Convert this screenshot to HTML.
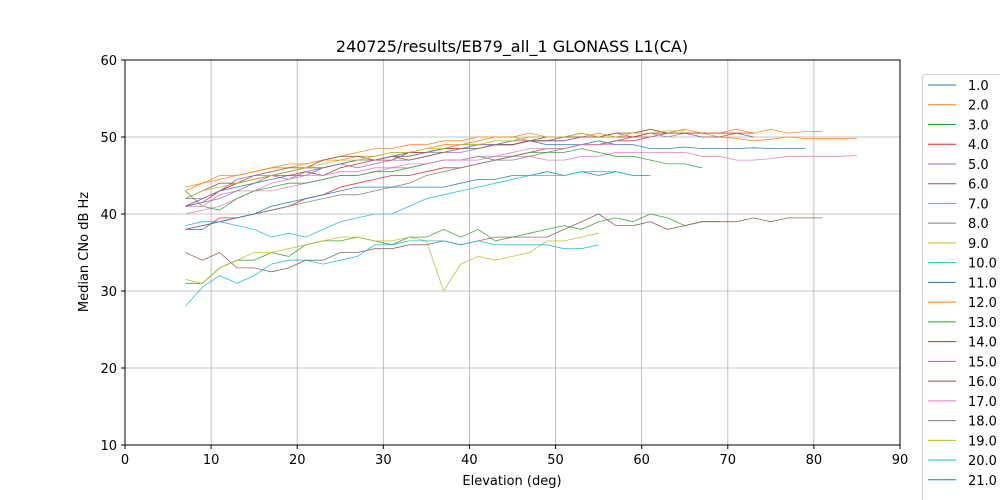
<!DOCTYPE html>
<html><head><meta charset="utf-8"><style>
body{margin:0;background:#fff;}
svg{display:block;font-family:"DejaVu Sans","Liberation Sans",sans-serif;}
</style></head><body>
<svg id="chart" width="1000" height="500">
<text x="512" y="52" text-anchor="middle" font-size="16">240725/results/EB79_all_1 GLONASS L1(CA)</text>
<g id="grid"></g>
<g id="lines"></g>
<rect x="125" y="60" width="775" height="385" fill="none" stroke="#000" stroke-width="1"/>
<g id="ticks"></g>
<text x="512" y="485" text-anchor="middle" font-size="13">Elevation (deg)</text>
<text transform="translate(88,252) rotate(-90)" text-anchor="middle" font-size="13">Median CNo dB Hz</text>
<g id="legend"></g>
</svg>
<script>
const xTicks=[0,10,20,30,40,50,60,70,80,90];
const yTicks=[10,20,30,40,50,60];
const labels=["1.0","2.0","3.0","4.0","5.0","6.0","7.0","8.0","9.0","10.0","11.0","12.0","13.0","14.0","15.0","16.0","17.0","18.0","19.0","20.0","21.0"];
const colors=["#1f77b4","#ff7f0e","#2ca02c","#d62728","#9467bd","#8c564b","#e377c2","#7f7f7f","#bcbd22","#17becf"];
const starts=[7,7,7,7,7,7,7,7,7,7,7,7,7,7,7,7,7,7,7,7];
const s1=[41,42,43,43.5,44,44.5,45,45,46,46.5,47,47,47.5,48,48,48.5,48.5,49,49,49,49.5,49,49,49,49.5,49,49,48.5,48.5,48.7,48.5,48.5,48.5,48.6,48.5,48.5,48.5];
const s2=[43.5,44,45,45,45.5,46,46,46.5,47,47,47.5,47.5,48,48,48.5,49,49,49.5,50,50,49.5,50,50,50,50.5,50,50,50,50.5,50.5,50.5,50,49.8,49.5,49.7,50,49.8,49.8,49.8,49.8];
const s3=[31,31,33,34,34,35,34.5,36,36.5,36.5,37,36.5,36,37,37,38,37,38,36.5,37,37.5,38,38.5,38,39,39.5,39,40,39.5,38.5,39,39];
const s4=[38,38,39.5,39.5,40,40.5,41,42,42.5,43.5,44,44.5,45,45,45.5,46,46,46.5,47,47.5,48,48.5,48.5,49,49,49.5,49.5,50];
const s5=[42,42,43,44,44.5,45,45.5,46,46,46.5,47,47,47.5,47.5,48,48.5,49,49,49,49.5,50,50,50,50.5,50,50.5,50,50,50.5];
const s6=[35,34,35,33,33,32.5,33,34,34,35,35,35.5,35.5,36,36,36.5,36,36.5,37,37,37,37,38,39,40,38.5,38.5,39,38,38.5,39,39,39,39.5,39,39.5,39.5,39.5];
const s7=[40,40.5,41,42,43,43,43.5,44,44.5,45,45,45.5,46,46,46.5,47,47,47,47.5,47.5,47.5,47,47,47.5,47.5,48,48,48,48,48,47.5,47.5,47,47,47.2,47.5,47.5,47.5,47.5,47.6];
const s8=[38,38.5,39,39.5,40,40.5,41,41.5,42,42.5,42.5,43,43.5,44,45,45.5,46,46.5,47,47,47.5,48,48.5,49,49,49.5,50,50.5,50,50.5,50.5,50.5,50.5];
const s9=[31.5,31,33,34,35,35,35.5,36,36.5,37,37,36.5,36.5,37,36.5,30,33.5,34.5,34,34.5,35,36.5,36.5,37,37.5];
const s10=[28,30.5,32,31,32,33.5,34,34,33.5,34,34.5,36,36,36.5,36.5,36.5,36,36.5,36,36,36,36,35.5,35.5,36];
const s11=[38,38.5,39,39.5,40,41,41.5,42,42.5,43,43.5,43.5,43.5,43.5,43.5,43.5,44,44.5,44.5,45,45,45.5,45,45.5,45,45.5,45,45];
const s12=[43,44,44.5,45,45.5,46,46.5,46.5,47,47.5,48,48.5,48.5,49,49,49.5,49.5,50,50,50,50.5,50,50,50.5,50,50.5,50.5,51,50.5,51,50.5,50.5,51,50.5,51,50.5,50.7,50.7];
const s13=[43,41,40.5,42,43,43.5,44,44,44.5,45,45,45.5,45.5,46,46.5,47,47,47.5,47,47.5,48,48,48,48.5,48,47.5,47.5,47,46.5,46.5,46];
const s14=[41,41.5,43,44,44.5,45,45,45.5,45,46,46.5,47,47,48,48,48.5,48.5,48.5,49,49,49.5,49.5,49.5,50,50,50,50,50.5,50.5,50.5,50.5,50.5,50.5,50.5];
const s15=[41,42,43,44.5,45,45,44.5,45.5,46,46.5,46,46.5,47,47,47.5,48,48,48.5,49,49,49.5,49.5,49.5,50,50,50];
const s16=[42,43,44,44,45,45.5,46,46,47,47.5,47.5,47,47.5,47,47.5,48,48.5,48.5,49,49,49.5,49.5,50,50,50,50.5,50.5,51,50.5,50.5,50,50,50.5,50];
const s17=[41,41,42.5,43,43,44,44.5,45,45,45.5,45.5,46,46,46.5,46.5,47,47,47.5,47.5,48,48.5,48.5,48.5,49,49,49];
const s18=[41,41.5,42,43,44,45,45.5,46,46,46.5,47,47,47.5,47.5,48,48,48.5,48.5,49,49.5,49.5,50,50,50.5,50];
const s19=[42,43,43.5,44,44.5,45,45.5,46,46.5,47,47,47.5,48,48,48.5,48.5,49,49,49.5,49.5,50,50,50,50.5,50,50,50.5,50.5,50.8,50.8];
const s20=[38.5,39,39,38.5,38,37,37.5,37,38,39,39.5,40,40,41,42,42.5,43,43.5,44,44.5,45,45,45,45.5,45.5,45.5,45];
const series=[s1,s2,s3,s4,s5,s6,s7,s8,s9,s10,s11,s12,s13,s14,s15,s16,s17,s18,s19,s20];
const step=2;

const NS="http://www.w3.org/2000/svg";
const X0=125,X1=900,Y0=445,Y1=60;
const xs=v=>X0+(v-0)/(90-0)*(X1-X0);
const ys=v=>Y0-(v-10)/(60-10)*(Y0-Y1);
function mk(tag,attrs,parent){const e=document.createElementNS(NS,tag);for(const k in attrs)e.setAttribute(k,attrs[k]);parent.appendChild(e);return e;}
const grid=document.getElementById('grid'),ticks=document.getElementById('ticks'),linesG=document.getElementById('lines'),leg=document.getElementById('legend');
xTicks.forEach(t=>{
 const x=xs(t);
 const g=mk('line',{x1:x,x2:x,y1:Y1,y2:Y0,stroke:'#b0b0b0','stroke-width':0.8},grid);
 
 
 const tk=mk('line',{x1:x,x2:x,y1:Y0,y2:Y0+4,stroke:'#000'},ticks);
 
 
 const tx=mk('text',{x:x,y:Y0+19,'text-anchor':'middle','font-size':13},ticks);
 tx.textContent=t;
 
 
});
yTicks.forEach(t=>{
 const y=ys(t);
 const g=mk('line',{x1:X0,x2:X1,y1:y,y2:y,stroke:'#b0b0b0','stroke-width':0.8},grid);
 
 
 const tk=mk('line',{x1:X0-4,x2:X0,y1:y,y2:y,stroke:'#000'},ticks);
 
 
 const tx=mk('text',{x:X0-8,y:y+5,'text-anchor':'end','font-size':13},ticks);
 tx.textContent=t;
 
 
});
series.forEach((vals,i)=>{
 const pts=vals.map((v,j)=>xs(starts[i]+j*step).toFixed(1)+','+ys(v).toFixed(1)).join(' ');
 const p=mk('polyline',{points:pts,fill:'none',stroke:colors[i%10],'stroke-width':0.8,'stroke-opacity':0.9},linesG);
 
 
});
const lb=mk('rect',{x:922.5,y:74.5,width:90,height:440,rx:3,fill:'#fff',stroke:'#d0d0d0'},leg);


labels.forEach((l,i)=>{
 const y=85+i*19.74;
 const ln=mk('line',{x1:928,x2:956,y1:y,y2:y,stroke:colors[i%10],'stroke-width':1},leg);
 
 
 const t=mk('text',{x:968,y:y+5,'font-size':13},leg);
 t.textContent=l;
 
 
});
</script>
</body></html>
